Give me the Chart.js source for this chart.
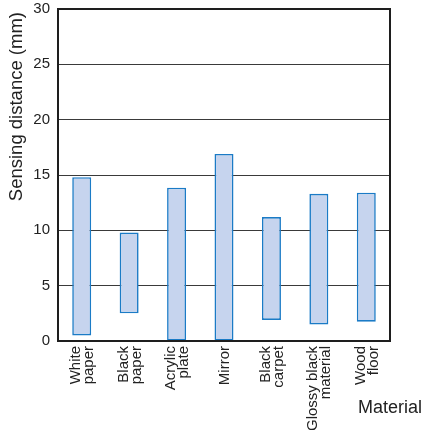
<!DOCTYPE html>
<html>
<head>
<meta charset="utf-8">
<script src="https://cdn.jsdelivr.net/npm/chart.js@4"></script>
<style>
html,body{margin:0;padding:0;background:#fff;}
#wrap{width:425px;height:430px;position:relative;}
</style>
</head>
<body>
<div id="wrap"><canvas id="c" width="425" height="430"></canvas></div>
<script>
const categories = [["White","paper"],["Black","paper"],["Acrylic","plate"],["Mirror"],["Black","carpet"],["Glossy black","material"],["Wood","floor"]];
const minDistance = [0.5, 2.5, 0, 0, 1.9, 1.5, 1.75];
const maxDistance = [14.8, 9.8, 13.85, 16.9, 11.2, 13.3, 13.4];
const yTicks = [0, 5, 10, 15, 20, 25, 30];
const xTitle = "Material";
const yTitle = "Sensing distance (mm)";

const FONT = "'Liberation Sans', Arial, sans-serif";

const framePlugin = {
  id: 'frame',
  afterDraw(chart) {
    const {ctx, chartArea: a} = chart;
    const xs = chart.scales.x;
    ctx.save();
    ctx.strokeStyle = '#1e1e1e';
    ctx.lineWidth = 2;
    ctx.strokeRect(a.left, a.top, a.right - a.left, a.bottom - a.top);
    // x tick labels, rotated, block-centred on each category
    ctx.fillStyle = '#222';
    ctx.font = "15px " + FONT;
    ctx.textAlign = 'right';
    ctx.textBaseline = 'alphabetic';
    const L = 12.8;
    categories.forEach((lines, i) => {
      const cx = xs.getPixelForTick(i);
      const n = lines.length;
      lines.forEach((t, j) => {
        const bx = cx + 5 + (j - (n - 1) / 2) * L;
        ctx.save();
        ctx.translate(bx, a.bottom + 5);
        ctx.rotate(-Math.PI / 2);
        ctx.fillText(t, 0, 0);
        ctx.restore();
      });
    });
    ctx.font = "18px " + FONT;
    ctx.textAlign = 'right';
    ctx.fillText(xTitle, 422, a.bottom + 72);
    // y title
    ctx.save();
    ctx.font = "18.5px " + FONT;
    ctx.translate(22, a.top + 3);
    ctx.rotate(-Math.PI / 2);
    ctx.textAlign = 'right';
    ctx.fillText(yTitle, 0, 0);
    ctx.restore();
    ctx.restore();
  }
};

new Chart(document.getElementById('c'), {
  type: 'bar',
  data: {
    labels: categories,
    datasets: [{
      data: categories.map((c, i) => [minDistance[i], maxDistance[i]]),
      backgroundColor: '#c6d4ee',
      borderColor: '#1b7bc6',
      borderWidth: 1.6,
      borderSkipped: false,
      barPercentage: 0.4,
      categoryPercentage: 1.0
    }]
  },
  options: {
    responsive: false,
    animation: false,
    plugins: { legend: { display: false }, tooltip: { enabled: false } },
    layout: { padding: { left: 0, right: 35, top: 9, bottom: 0 } },
    scales: {
      x: {
        grid: { display: false, drawTicks: false },
        border: { display: false },
        ticks: { display: false },
        afterFit(s) { s.height = 89; s.paddingLeft = 0; s.paddingRight = 0; }
      },
      y: {
        min: 0, max: 30,
        afterBuildTicks(s) { s.ticks = yTicks.map(v => ({value: v})); },
        grid: { color: '#3a3a3a', lineWidth: 1, drawTicks: false },
        border: { display: false },
        ticks: {
          color: '#222',
          font: { family: FONT, size: 15 },
          padding: 8
        },
        afterFit(s) { s.width = 58; s.paddingTop = 0; s.paddingBottom = 0; }
      }
    }
  },
  plugins: [framePlugin]
});
</script>
</body>
</html>
